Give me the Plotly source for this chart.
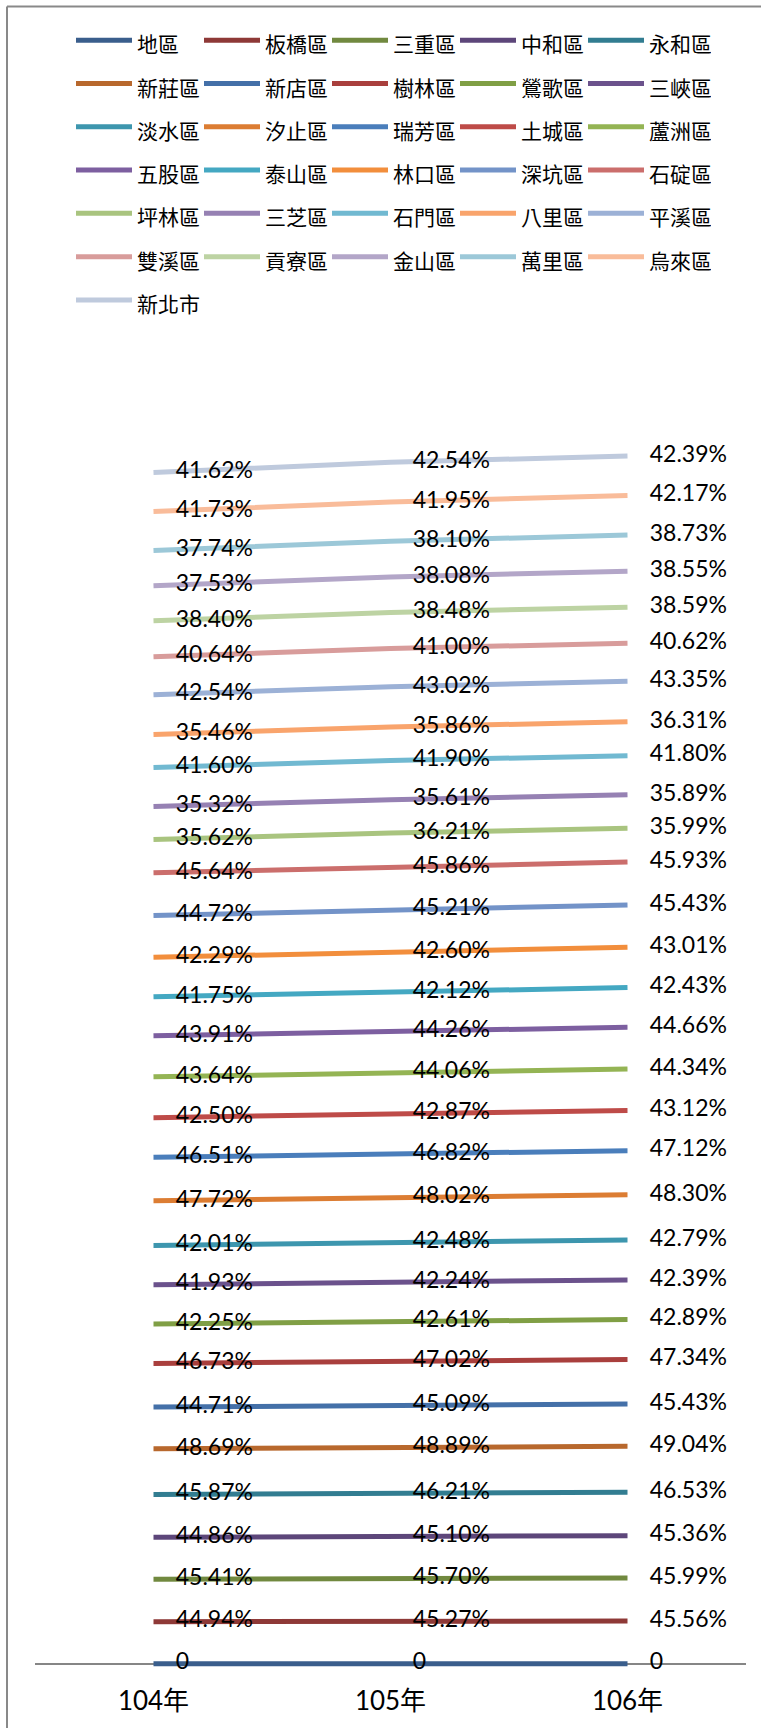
import plotly.graph_objects as go

W, H = 761, 1728
ML, MR, MT, MB = 35, 15, 355, 53

years = ["104年", "105年", "106年"]

districts = [
    "地區", "板橋區", "三重區", "中和區", "永和區",
    "新莊區", "新店區", "樹林區", "鶯歌區", "三峽區",
    "淡水區", "汐止區", "瑞芳區", "土城區", "蘆洲區",
    "五股區", "泰山區", "林口區", "深坑區", "石碇區",
    "坪林區", "三芝區", "石門區", "八里區", "平溪區",
    "雙溪區", "貢寮區", "金山區", "萬里區", "烏來區",
    "新北市",
]

# percent values for 104, 105, 106
rates = [
    [0, 0, 0],
    [44.94, 45.27, 45.56],
    [45.41, 45.70, 45.99],
    [44.86, 45.10, 45.36],
    [45.87, 46.21, 46.53],
    [48.69, 48.89, 49.04],
    [44.71, 45.09, 45.43],
    [46.73, 47.02, 47.34],
    [42.25, 42.61, 42.89],
    [41.93, 42.24, 42.39],
    [42.01, 42.48, 42.79],
    [47.72, 48.02, 48.30],
    [46.51, 46.82, 47.12],
    [42.50, 42.87, 43.12],
    [43.64, 44.06, 44.34],
    [43.91, 44.26, 44.66],
    [41.75, 42.12, 42.43],
    [42.29, 42.60, 43.01],
    [44.72, 45.21, 45.43],
    [45.64, 45.86, 45.93],
    [35.62, 36.21, 35.99],
    [35.32, 35.61, 35.89],
    [41.60, 41.90, 41.80],
    [35.46, 35.86, 36.31],
    [42.54, 43.02, 43.35],
    [40.64, 41.00, 40.62],
    [38.40, 38.48, 38.59],
    [37.53, 38.08, 38.55],
    [37.74, 38.10, 38.73],
    [41.73, 41.95, 42.17],
    [41.62, 42.54, 42.39],
]

colors = [
    "#3A5E8C", "#8E3937", "#71893F", "#5D467A", "#327D91",
    "#B8682D", "#4470A8", "#A93F3D", "#809F45", "#6B528C",
    "#3D96AE", "#DC7D33", "#4A7EBB", "#BE4B48", "#94B454",
    "#7D5FA0", "#44A8C2", "#F28E3C", "#7393C8", "#CB6E6C",
    "#A9C47F", "#9681B3", "#71B9D1", "#F9A46C", "#9CB1D6",
    "#D89C9B", "#BDD3A3", "#B3A6C8", "#9CC8D8", "#F9BC9A",
    "#BFCADD",
]


def label(v):
    return "0" if v == 0 else f"{v:.2f}%"


fig = go.Figure()
for name, vals, col in zip(districts, rates, colors):
    fig.add_trace(go.Scatter(
        x=years, y=[v / 100 for v in vals],
        name=f"<span style='font-size:21px'>{name}</span>",
        stackgroup="one", fill="none", mode="lines+markers+text",
        line=dict(color=col, width=5),
        # invisible markers only push the value labels off the points
        marker=dict(size=34, color="rgba(0,0,0,0)", line=dict(width=0)),
        text=[label(v) for v in vals], textposition="middle right",
        textfont=dict(family="Lato, Noto Sans CJK TC", size=23, color="#000"),
        hoverinfo="skip",
    ))

ph = H - MT - MB


def py(px):  # figure pixel y -> paper y
    return (H - MB - px) / ph


def px_(x):
    return (x - ML) / (W - ML - MR)


fig.update_layout(
    width=W, height=H,
    margin=dict(l=ML, r=MR, t=MT, b=MB),
    paper_bgcolor="white", plot_bgcolor="white",
    showlegend=True,
    legend=dict(orientation="h", traceorder="normal",
                x=px_(71), xanchor="left", y=py(13), yanchor="top",
                itemwidth=56, entrywidth=57, entrywidthmode="pixels",
                font=dict(family="Noto Sans CJK TC", size=31, color="#000"),
                bgcolor="rgba(0,0,0,0)"),
    xaxis=dict(type="category", range=[-0.5, 2.5], showgrid=False,
               showline=False, ticks="", zeroline=False, ticklabelstandoff=10,
               tickfont=dict(family="Lato, Noto Sans CJK TC", size=26, color="#000")),
    # a little room below zero so the 地區 line is not half clipped;
    # the zero line stands in for the category axis line
    yaxis=dict(range=[-0.1, 14], showticklabels=False, showgrid=False,
               zeroline=True, zerolinecolor="#868686", zerolinewidth=1.5),
    shapes=[
        dict(type="line", xref="paper", yref="paper",
             x0=px_(7), x1=px_(W + 10), y0=py(6), y1=py(6),
             line=dict(color="#898989", width=2)),
        dict(type="line", xref="paper", yref="paper",
             x0=px_(7), x1=px_(7), y0=py(6), y1=py(H + 10),
             line=dict(color="#898989", width=2)),
    ],
)

# the page's default body margin would shift the whole figure by 8px
fig.write_html("out.html", config={"displayModeBar": False},
               post_script="document.body.style.margin='0';")
